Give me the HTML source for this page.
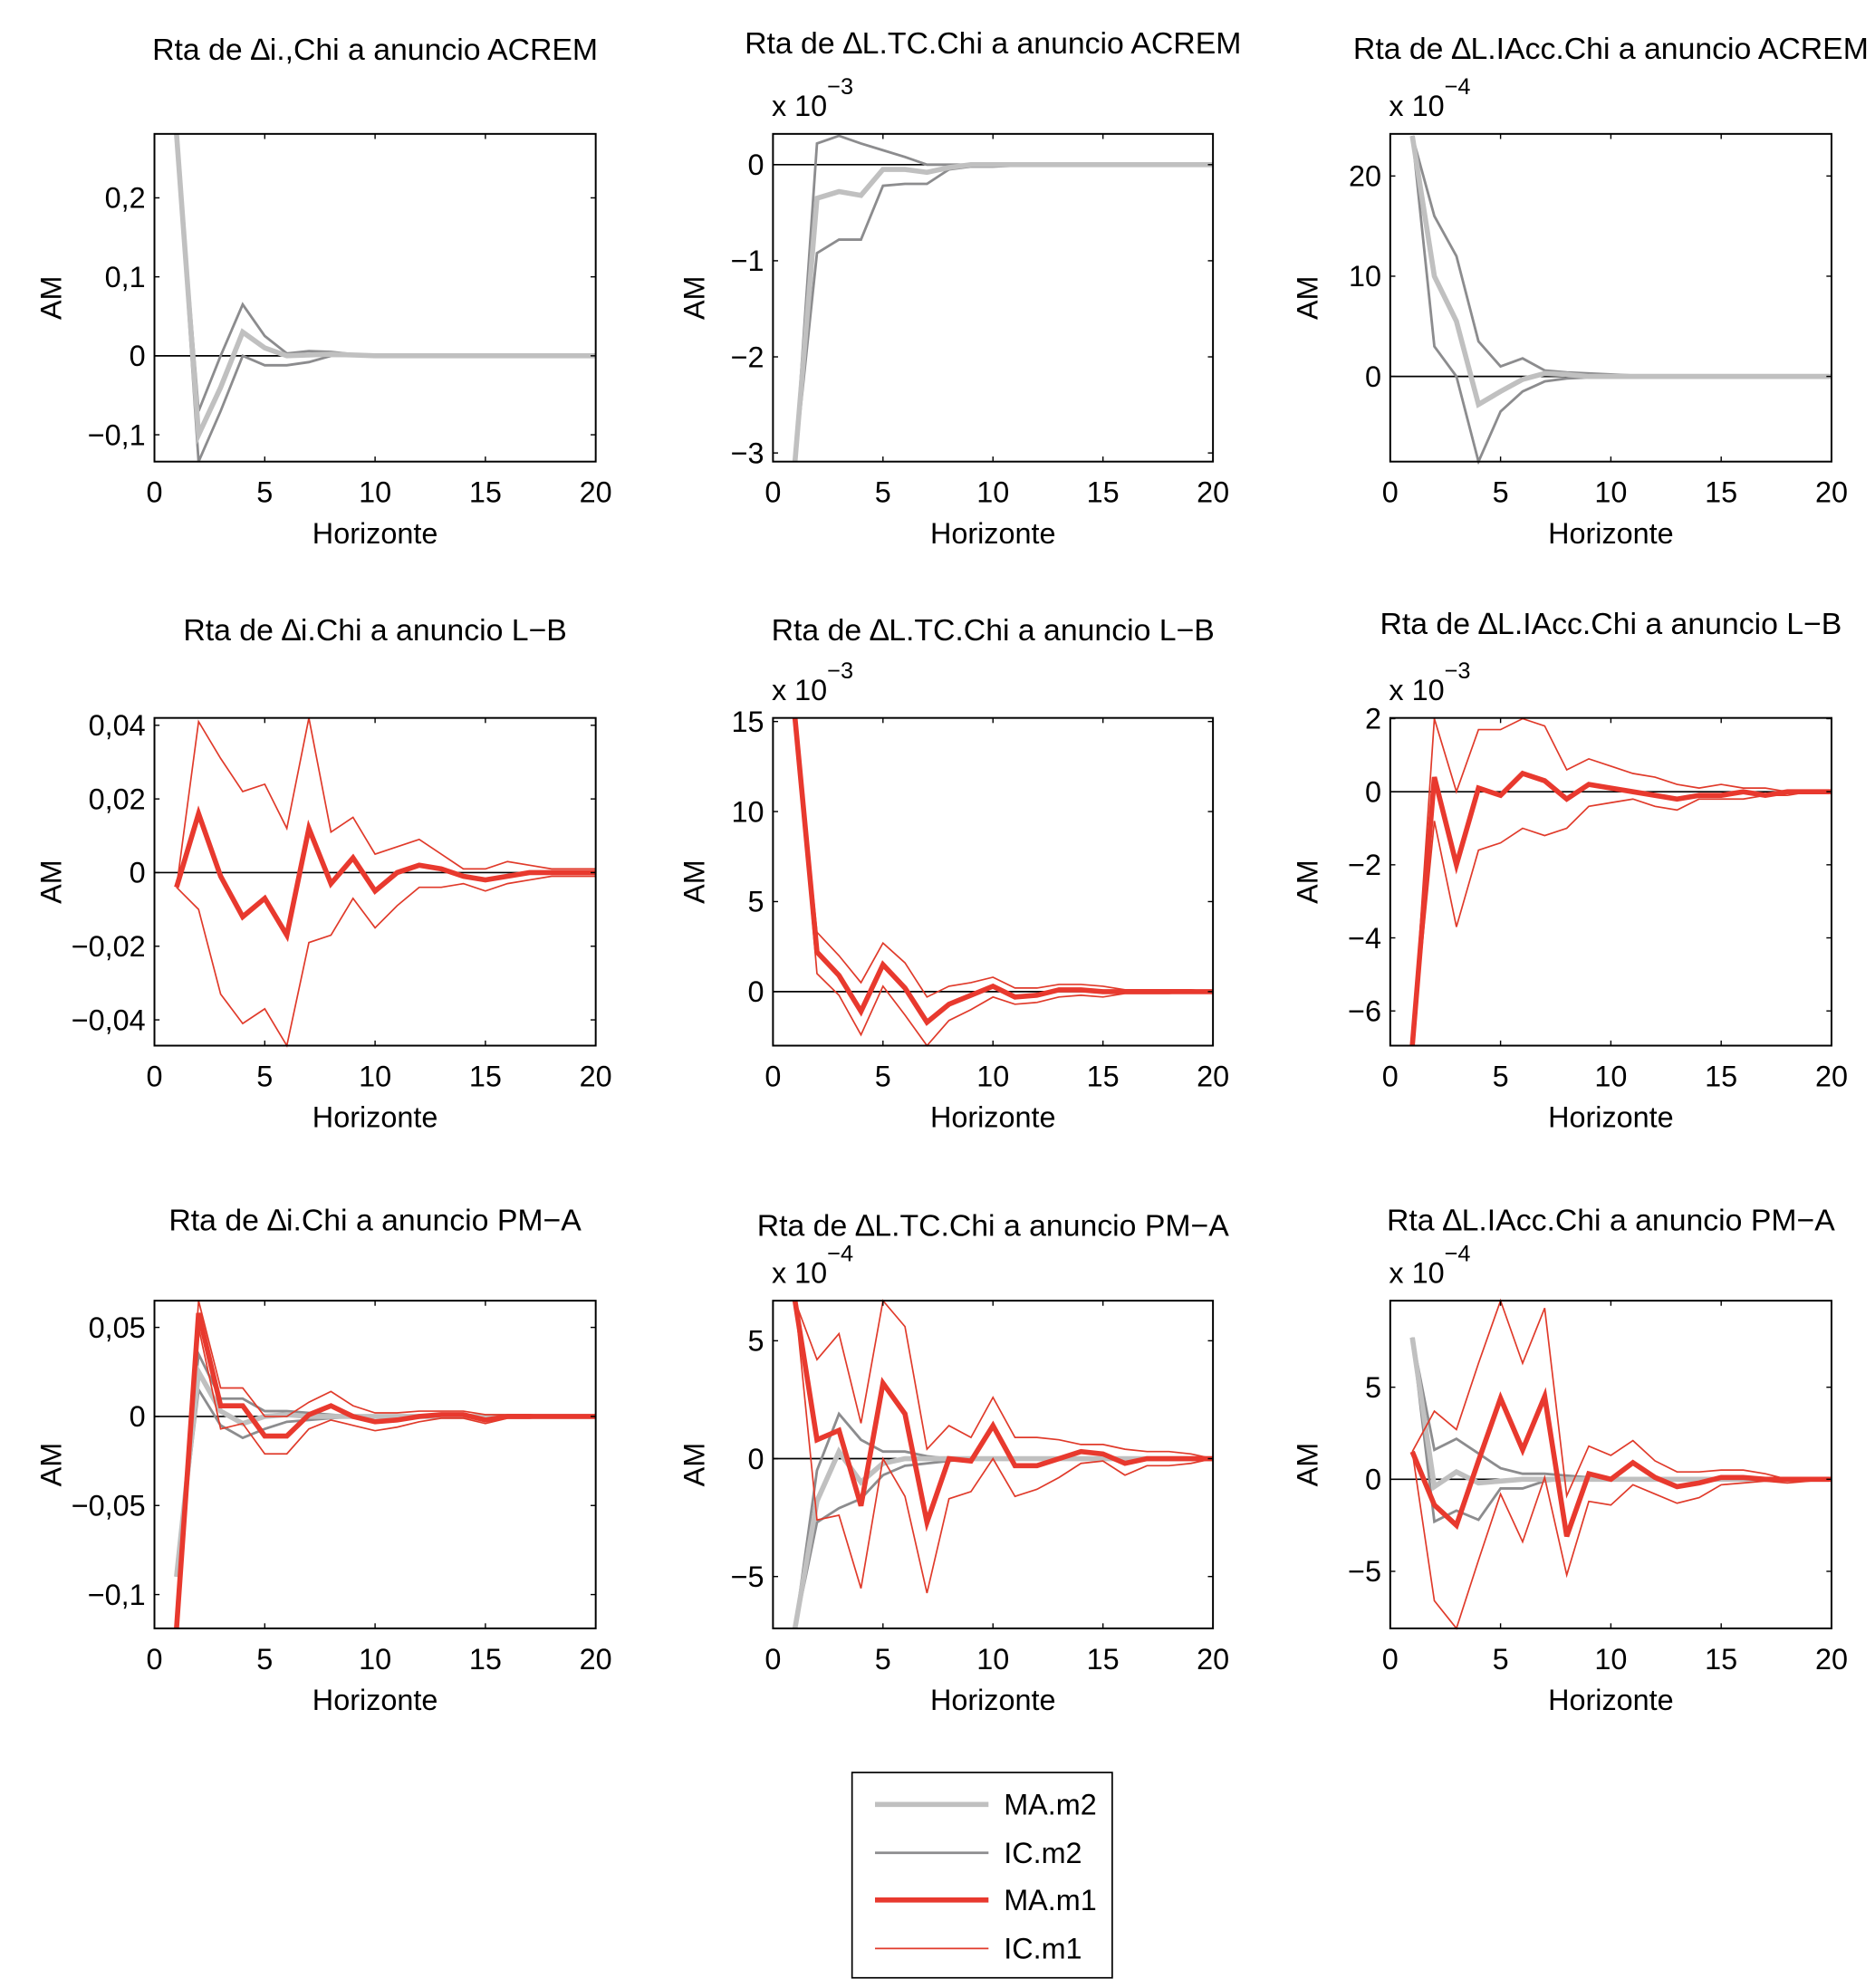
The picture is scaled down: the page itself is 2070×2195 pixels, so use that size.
<!DOCTYPE html>
<html><head><meta charset="utf-8"><style>
html,body{margin:0;padding:0;background:#fff;}
svg{display:block;font-family:"Liberation Sans",sans-serif;}
</style></head><body>
<svg id="fig" width="2070" height="2195" viewBox="0 0 1470 1559" xmlns="http://www.w3.org/2000/svg">
<g id="legend">
<rect x="668" y="1390" width="204" height="161" fill="#fff" stroke="#000" stroke-width="1.2"/>
<line x1="686" y1="1415" x2="775" y2="1415" stroke="#c0c0c0" stroke-width="4"/>
<text x="787" y="1423" font-size="23">MA.m2</text>
<line x1="686" y1="1453" x2="775" y2="1453" stroke="#8c8c8e" stroke-width="2"/>
<text x="787" y="1461" font-size="23">IC.m2</text>
<line x1="686" y1="1490" x2="775" y2="1490" stroke="#e8392e" stroke-width="4"/>
<text x="787" y="1498" font-size="23">MA.m1</text>
<line x1="686" y1="1528" x2="775" y2="1528" stroke="#e03a2a" stroke-width="1.2"/>
<text x="787" y="1536" font-size="23">IC.m1</text>
</g>
</svg>
<script>
// ---- data ----
const horizons = [1,2,3,4,5,6,7,8,9,10,11,12,13,14,15,16,17,18,19,20];
const xTicks = [0,5,10,15,20];
// panel 1
const p1_ma2 = [0.281,-0.10,-0.04,0.03,0.01,0.0,0.001,0.002,0.001,0,0,0,0,0,0,0,0,0,0,0];
const p1_ic2u = [0.281,-0.07,0.0,0.065,0.025,0.003,0.006,0.005,0.002,0.001,0.001,0.001,0.001,0,0,0,0,0,0,0];
const p1_ic2l = [0.281,-0.134,-0.07,0.0,-0.012,-0.012,-0.008,0.0,0,0,0,0,0,0,0,0,0,0,0,0];
const p1_ticks = [-0.1,0,0.1,0.2];
const p1_tickLabels = ["\u22120,1","0","0,1","0,2"];
// panel 2
const p2_ma2 = [-3.09,-0.35,-0.28,-0.32,-0.05,-0.05,-0.08,-0.03,0,0,0,0,0,0,0,0,0,0,0,0];
const p2_ic2u = [-3.09,0.22,0.30,0.22,0.15,0.08,0.0,0,0,0,0,0,0,0,0,0,0,0,0,0];
const p2_ic2l = [-3.09,-0.92,-0.78,-0.78,-0.22,-0.2,-0.2,-0.05,-0.02,-0.02,-0.01,-0.01,0,0,0,0,0,0,0,0];
const p2_ticks = [-3,-2,-1,0];
const p2_tickLabels = ["\u22123","\u22122","\u22121","0"];
// panel 3
const p3_ma2 = [24,10,5.5,-2.8,-1.5,-0.3,0.3,0.2,0,0,0,0,0,0,0,0,0,0,0,0];
const p3_ic2u = [24,16,12,3.5,1.0,1.8,0.6,0.4,0.3,0.2,0.1,0.1,0,0,0,0,0,0,0,0];
const p3_ic2l = [24,3,0,-8.5,-3.5,-1.5,-0.5,-0.2,-0.1,0,0,0,0,0,0,0,0,0,0,0];
const p3_ticks = [0,10,20];
const p3_tickLabels = ["0","10","20"];
// panel 4
const p4_ma1 = [-0.004,0.016,-0.001,-0.012,-0.007,-0.017,0.012,-0.003,0.004,-0.005,0,0.002,0.001,-0.001,-0.002,-0.001,0,0,0,0];
const p4_ic1u = [-0.004,0.041,0.031,0.022,0.024,0.012,0.042,0.011,0.015,0.005,0.007,0.009,0.005,0.001,0.001,0.003,0.002,0.001,0.001,0.001];
const p4_ic1l = [-0.004,-0.01,-0.033,-0.041,-0.037,-0.047,-0.019,-0.017,-0.007,-0.015,-0.009,-0.004,-0.004,-0.003,-0.005,-0.003,-0.002,-0.001,-0.001,-0.001];
const p4_ticks = [-0.04,-0.02,0,0.02,0.04];
const p4_tickLabels = ["\u22120,04","\u22120,02","0","0,02","0,04"];
// panel 5
const p5_ma1 = [15.2,2.2,0.9,-1.1,1.5,0.2,-1.7,-0.7,-0.2,0.3,-0.3,-0.2,0.1,0.1,0,0,0,0,0,0];
const p5_ic1u = [15.2,3.3,2.0,0.5,2.7,1.6,-0.3,0.3,0.5,0.8,0.2,0.2,0.4,0.4,0.3,0.1,0.1,0.1,0.1,0];
const p5_ic1l = [15.2,1.0,-0.2,-2.4,0.3,-1.3,-3.0,-1.6,-1.0,-0.3,-0.7,-0.6,-0.3,-0.2,-0.3,-0.1,-0.1,-0.1,0,0];
const p5_ticks = [0,5,10,15];
const p5_tickLabels = ["0","5","10","15"];
// panel 6
const p6_ma1 = [-6.95,0.4,-2.0,0.1,-0.1,0.5,0.3,-0.2,0.2,0.1,0,-0.1,-0.2,-0.1,-0.1,0,-0.1,0,0,0];
const p6_ic1u = [-6.95,2.0,0,1.7,1.7,2.0,1.8,0.6,0.9,0.7,0.5,0.4,0.2,0.1,0.2,0.1,0.1,0,0,0];
const p6_ic1l = [-6.95,-0.8,-3.7,-1.6,-1.4,-1.0,-1.2,-1.0,-0.4,-0.3,-0.2,-0.4,-0.5,-0.2,-0.2,-0.2,-0.1,-0.1,0,0];
const p6_ticks = [-6,-4,-2,0,2];
const p6_tickLabels = ["\u22126","\u22124","\u22122","0","2"];
// panel 7
const p7_ma2 = [-0.09,0.025,0.003,-0.004,0.0,0.001,0,0,0,0,0,0,0,0,0,0,0,0,0,0];
const p7_ic2u = [-0.09,0.035,0.01,0.01,0.003,0.003,0.002,0.001,0,0,0,0,0,0,0,0,0,0,0,0];
const p7_ic2l = [-0.09,0.015,-0.005,-0.012,-0.007,-0.003,-0.002,-0.001,0,0,0,0,0,0,0,0,0,0,0,0];
const p7_ma1 = [-0.119,0.058,0.006,0.006,-0.011,-0.011,0.001,0.006,0.0,-0.003,-0.002,0,0.001,0.001,-0.002,0,0,0,0,0];
const p7_ic1u = [-0.119,0.065,0.016,0.016,0.0,0.0,0.008,0.014,0.006,0.002,0.002,0.003,0.003,0.003,0.001,0.001,0.001,0,0,0];
const p7_ic1l = [-0.119,0.05,-0.007,-0.004,-0.021,-0.021,-0.007,-0.002,-0.005,-0.008,-0.006,-0.003,-0.001,-0.001,-0.004,-0.001,-0.001,0,0,0];
const p7_ticks = [-0.1,-0.05,0,0.05];
const p7_tickLabels = ["\u22120,1","\u22120,05","0","0,05"];
// panel 8
const p8_ma2 = [-7.2,-1.8,0.3,-1.0,-0.2,0,0,0,0,0,0,0,0,0,0,0,0,0,0,0];
const p8_ic2u = [-7.2,-0.5,1.9,0.8,0.3,0.3,0.1,0,0,0,0,0,0,0,0,0,0,0,0,0];
const p8_ic2l = [-7.2,-2.7,-2.1,-1.7,-0.7,-0.3,-0.2,-0.1,0,0,0,0,0,0,0,0,0,0,0,0];
const p8_ma1 = [6.7,0.8,1.2,-2.0,3.2,1.9,-2.7,0,-0.1,1.4,-0.3,-0.3,0,0.3,0.2,-0.2,0,0,0,0];
const p8_ic1u = [6.7,4.2,5.3,1.5,6.7,5.6,0.4,1.4,0.9,2.6,0.9,0.9,0.8,0.6,0.6,0.4,0.3,0.3,0.2,0];
const p8_ic1l = [6.7,-2.6,-2.4,-5.5,0,-1.6,-5.7,-1.7,-1.4,0,-1.6,-1.3,-0.8,-0.2,-0.1,-0.7,-0.3,-0.3,-0.2,0];
const p8_ticks = [-5,0,5];
const p8_tickLabels = ["\u22125","0","5"];
// panel 9
const p9_ma2 = [7.7,-0.4,0.4,-0.2,-0.1,0,0,0,0,0,0,0,0,0,0,0,0,0,0,0];
const p9_ic2u = [7.7,1.6,2.2,1.4,0.6,0.3,0.3,0.2,0.1,0,0,0,0,0,0,0,0,0,0,0];
const p9_ic2l = [7.7,-2.3,-1.7,-2.2,-0.5,-0.5,-0.1,0,0,0,0,0,0,0,0,0,0,0,0,0];
const p9_ma1 = [1.5,-1.4,-2.5,1.0,4.4,1.6,4.5,-3.1,0.3,0,0.9,0.1,-0.4,-0.2,0.1,0.1,0,0,0,0];
const p9_ic1u = [1.5,3.7,2.7,6.3,9.7,6.3,9.3,-0.9,1.8,1.3,2.1,1.0,0.4,0.4,0.5,0.5,0.3,0,0,0];
const p9_ic1l = [1.5,-6.6,-8.1,-4.4,-0.8,-3.4,0.1,-5.2,-1.2,-1.4,-0.3,-0.8,-1.3,-1.0,-0.3,-0.2,-0.1,-0.2,-0.1,0];
const p9_ticks = [-5,0,5];
const p9_tickLabels = ["\u22125","0","5"];

const colL = [121,606,1090], colR = [467,951,1436];
const rowT = [105,563,1020], rowB = [362,820,1277];
const panels = [
 {c:0,r:0,title:"Rta de \u2206i.,Chi a anuncio ACREM",exp:null,ymin:-0.134,ymax:0.281,ticks:p1_ticks,labels:p1_tickLabels,ma2:p1_ma2,ic2u:p1_ic2u,ic2l:p1_ic2l},
 {c:1,r:0,title:"Rta de \u2206L.TC.Chi a anuncio ACREM",exp:"\u22123",ymin:-3.09,ymax:0.32,ticks:p2_ticks,labels:p2_tickLabels,ma2:p2_ma2,ic2u:p2_ic2u,ic2l:p2_ic2l,ty:42},
 {c:2,r:0,title:"Rta de \u2206L.IAcc.Chi a anuncio ACREM",exp:"\u22124",ymin:-8.5,ymax:24.2,ticks:p3_ticks,labels:p3_tickLabels,ma2:p3_ma2,ic2u:p3_ic2u,ic2l:p3_ic2l,ty:46},
 {c:0,r:1,title:"Rta de \u2206i.Chi a anuncio L\u2212B",exp:null,ymin:-0.047,ymax:0.042,ticks:p4_ticks,labels:p4_tickLabels,ma1:p4_ma1,ic1u:p4_ic1u,ic1l:p4_ic1l},
 {c:1,r:1,title:"Rta de \u2206L.TC.Chi a anuncio L\u2212B",exp:"\u22123",ymin:-3.0,ymax:15.2,ticks:p5_ticks,labels:p5_tickLabels,ma1:p5_ma1,ic1u:p5_ic1u,ic1l:p5_ic1l},
 {c:2,r:1,title:"Rta de \u2206L.IAcc.Chi a anuncio L\u2212B",exp:"\u22123",ymin:-6.95,ymax:2.02,ticks:p6_ticks,labels:p6_tickLabels,ma1:p6_ma1,ic1u:p6_ic1u,ic1l:p6_ic1l,ty:497},
 {c:0,r:2,title:"Rta de \u2206i.Chi a anuncio PM\u2212A",exp:null,ymin:-0.119,ymax:0.065,ticks:p7_ticks,labels:p7_tickLabels,ma2:p7_ma2,ic2u:p7_ic2u,ic2l:p7_ic2l,ma1:p7_ma1,ic1u:p7_ic1u,ic1l:p7_ic1l},
 {c:1,r:2,title:"Rta de \u2206L.TC.Chi a anuncio PM\u2212A",exp:"\u22124",ymin:-7.2,ymax:6.7,ticks:p8_ticks,labels:p8_tickLabels,ma2:p8_ma2,ic2u:p8_ic2u,ic2l:p8_ic2l,ma1:p8_ma1,ic1u:p8_ic1u,ic1l:p8_ic1l,ty:969},
 {c:2,r:2,title:"Rta \u2206L.IAcc.Chi a anuncio PM\u2212A",exp:"\u22124",ymin:-8.1,ymax:9.7,ticks:p9_ticks,labels:p9_tickLabels,ma2:p9_ma2,ic2u:p9_ic2u,ic2l:p9_ic2l,ma1:p9_ma1,ic1u:p9_ic1u,ic1l:p9_ic1l}
];
const NS="http://www.w3.org/2000/svg";
const svg=document.getElementById('fig');
const legend=document.getElementById('legend');
function mk(tag,attrs,parent){const e=document.createElementNS(NS,tag);for(const k in attrs)e.setAttribute(k,attrs[k]);parent.appendChild(e);return e;}
panels.forEach((p,i)=>{
  const L=colL[p.c],R=colR[p.c],T=rowT[p.r],B=rowB[p.r];
  const xs=v=>L+(v-0)/(20-0)*(R-L);
  const ys=v=>B-(v-p.ymin)/(p.ymax-p.ymin)*(B-T);
  const g=mk('g',{},svg);
  
  
  const cp=mk('clipPath',{id:'cp'+i},g);
  mk('rect',{x:L,y:T-2,width:R-L,height:B-T+4},cp);
  const ttl=mk('text',{x:(L+R)/2,y:(p.ty||[47,502,965][p.r]),'font-size':24,'text-anchor':'middle'},g);
  ttl.textContent=p.title;
  
  
  if(p.exp){
    const ex=mk('text',{x:L-1,y:T-14,'font-size':23},g);
    ex.textContent='x 10';
    
    
    const ts=mk('tspan',{dy:-17,'font-size':18},ex);ts.textContent=p.exp;
  }
  const z=mk('line',{x1:L,x2:R,y1:ys(0),y2:ys(0),stroke:'#000','stroke-width':1.2},g);
  
  
  const series=[['ic2u','#8c8c8e',2],['ic2l','#8c8c8e',2],['ma2','#c0c0c0',4],['ic1u','#e03a2a',1.2],['ic1l','#e03a2a',1.2],['ma1','#e8392e',4]];
  const sg=mk('g',{'clip-path':'url(#cp'+i+')'},g);
  series.forEach(([k,col,w])=>{
    if(!p[k])return;
    const d=p[k].map((v,j)=>(j?'L':'M')+xs(horizons[j]).toFixed(2)+' '+ys(v).toFixed(2)).join(' ');
    const pa=mk('path',{d:d,fill:'none',stroke:col,'stroke-width':w,'stroke-linejoin':'miter'},sg);
    
    
  });
  const box=mk('rect',{x:L,y:T,width:R-L,height:B-T,fill:'none',stroke:'#000','stroke-width':1.4},g);
  
  
  xTicks.forEach(t=>{
    const x=xs(t);
    mk('line',{x1:x,x2:x,y1:B,y2:B-4,stroke:'#000','stroke-width':1},g);
    mk('line',{x1:x,x2:x,y1:T,y2:T+4,stroke:'#000','stroke-width':1},g);
    const tl=mk('text',{x:x,y:B+32,'font-size':23,'text-anchor':'middle'},g);
    tl.textContent=String(t);
    
    
  });
  p.ticks.forEach((t,j)=>{
    const y=ys(t);
    mk('line',{x1:L,x2:L+4,y1:y,y2:y,stroke:'#000','stroke-width':1},g);
    mk('line',{x1:R,x2:R-4,y1:y,y2:y,stroke:'#000','stroke-width':1},g);
    const tl=mk('text',{x:L-7,y:y+8,'font-size':23,'text-anchor':'end'},g);
    tl.textContent=p.labels[j];
    
    
  });
  const xl=mk('text',{x:(L+R)/2,y:B+64,'font-size':23,'text-anchor':'middle'},g);
  xl.textContent='Horizonte';
  
  
  const yx=[48,552,1033][p.c], yc=(T+B)/2;
  const yl=mk('text',{x:yx,y:yc,'font-size':23,'text-anchor':'middle',transform:'rotate(-90 '+yx+' '+yc+')'},g);
  yl.textContent='AM';
  
  
});
svg.appendChild(legend);
</script>
</body></html>
